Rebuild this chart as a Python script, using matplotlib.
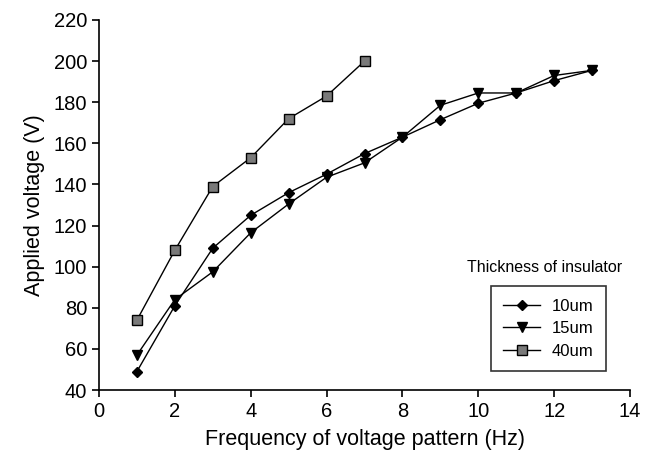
import matplotlib
matplotlib.use('Agg')
from matplotlib import pyplot as plt

# data
freq_10 = [1, 2, 3, 4, 5, 6, 7, 8, 9, 10, 11, 12, 13]
volt_10 = [49, 81, 109, 125, 136, 145, 155, 163, 171.5, 179.5, 184.5, 190.5, 195.5]
freq_15 = [1, 2, 3, 4, 5, 6, 7, 8, 9, 10, 11, 12, 13]
volt_15 = [57, 84, 97.5, 116.5, 130.5, 143.5, 150.5, 163, 178.5, 184.5, 184.5, 193, 195.5]
freq_40 = [1, 2, 3, 4, 5, 6, 7]
volt_40 = [74, 108, 139, 153, 172, 183, 200]

plt.rcParams['font.family'] = ['Liberation Sans', 'DejaVu Sans']

fig = plt.figure(figsize=(6.5, 4.54), dpi=100)
ax = fig.add_axes([99 / 650, 1 - 390 / 454, 531 / 650, 370 / 454])

ax.plot(freq_10, volt_10, color='black', lw=1, marker='D', ms=5,
        mfc='black', mec='black', label='10um')
ax.plot(freq_15, volt_15, color='black', lw=1, marker='v', ms=7,
        mfc='black', mec='black', label='15um')
ax.plot(freq_40, volt_40, color='black', lw=1, marker='s', ms=7,
        mfc='#7a7a7a', mec='black', label='40um')

ax.set_xlim(0, 14)
ax.set_ylim(40, 220)
ax.set_xticks(range(0, 15, 2))
ax.set_yticks(range(40, 221, 20))
ax.spines['top'].set_visible(False)
ax.spines['right'].set_visible(False)
ax.spines['left'].set_linewidth(1.2)
ax.spines['bottom'].set_linewidth(1.2)
ax.tick_params(axis='both', direction='out', length=5, width=1.2, labelsize=14.5)

ax.set_xlabel('Frequency of voltage pattern (Hz)', fontsize=15.5, labelpad=6)
ax.set_ylabel('Applied voltage (V)', fontsize=15.5, labelpad=6)

leg = ax.legend(loc='upper left', bbox_to_anchor=(0.738, 0.281), fontsize=12,
                frameon=True, fancybox=False, edgecolor='black', borderaxespad=0,
                handlelength=2.2, handletextpad=0.7, borderpad=0.75,
                labelspacing=0.45)
leg.get_frame().set_linewidth(1.2)
ax.text(0.84, 0.33, 'Thickness of insulator', transform=ax.transAxes,
        ha='center', va='center', fontsize=11.5)

fig.savefig('out.png', dpi=100)
